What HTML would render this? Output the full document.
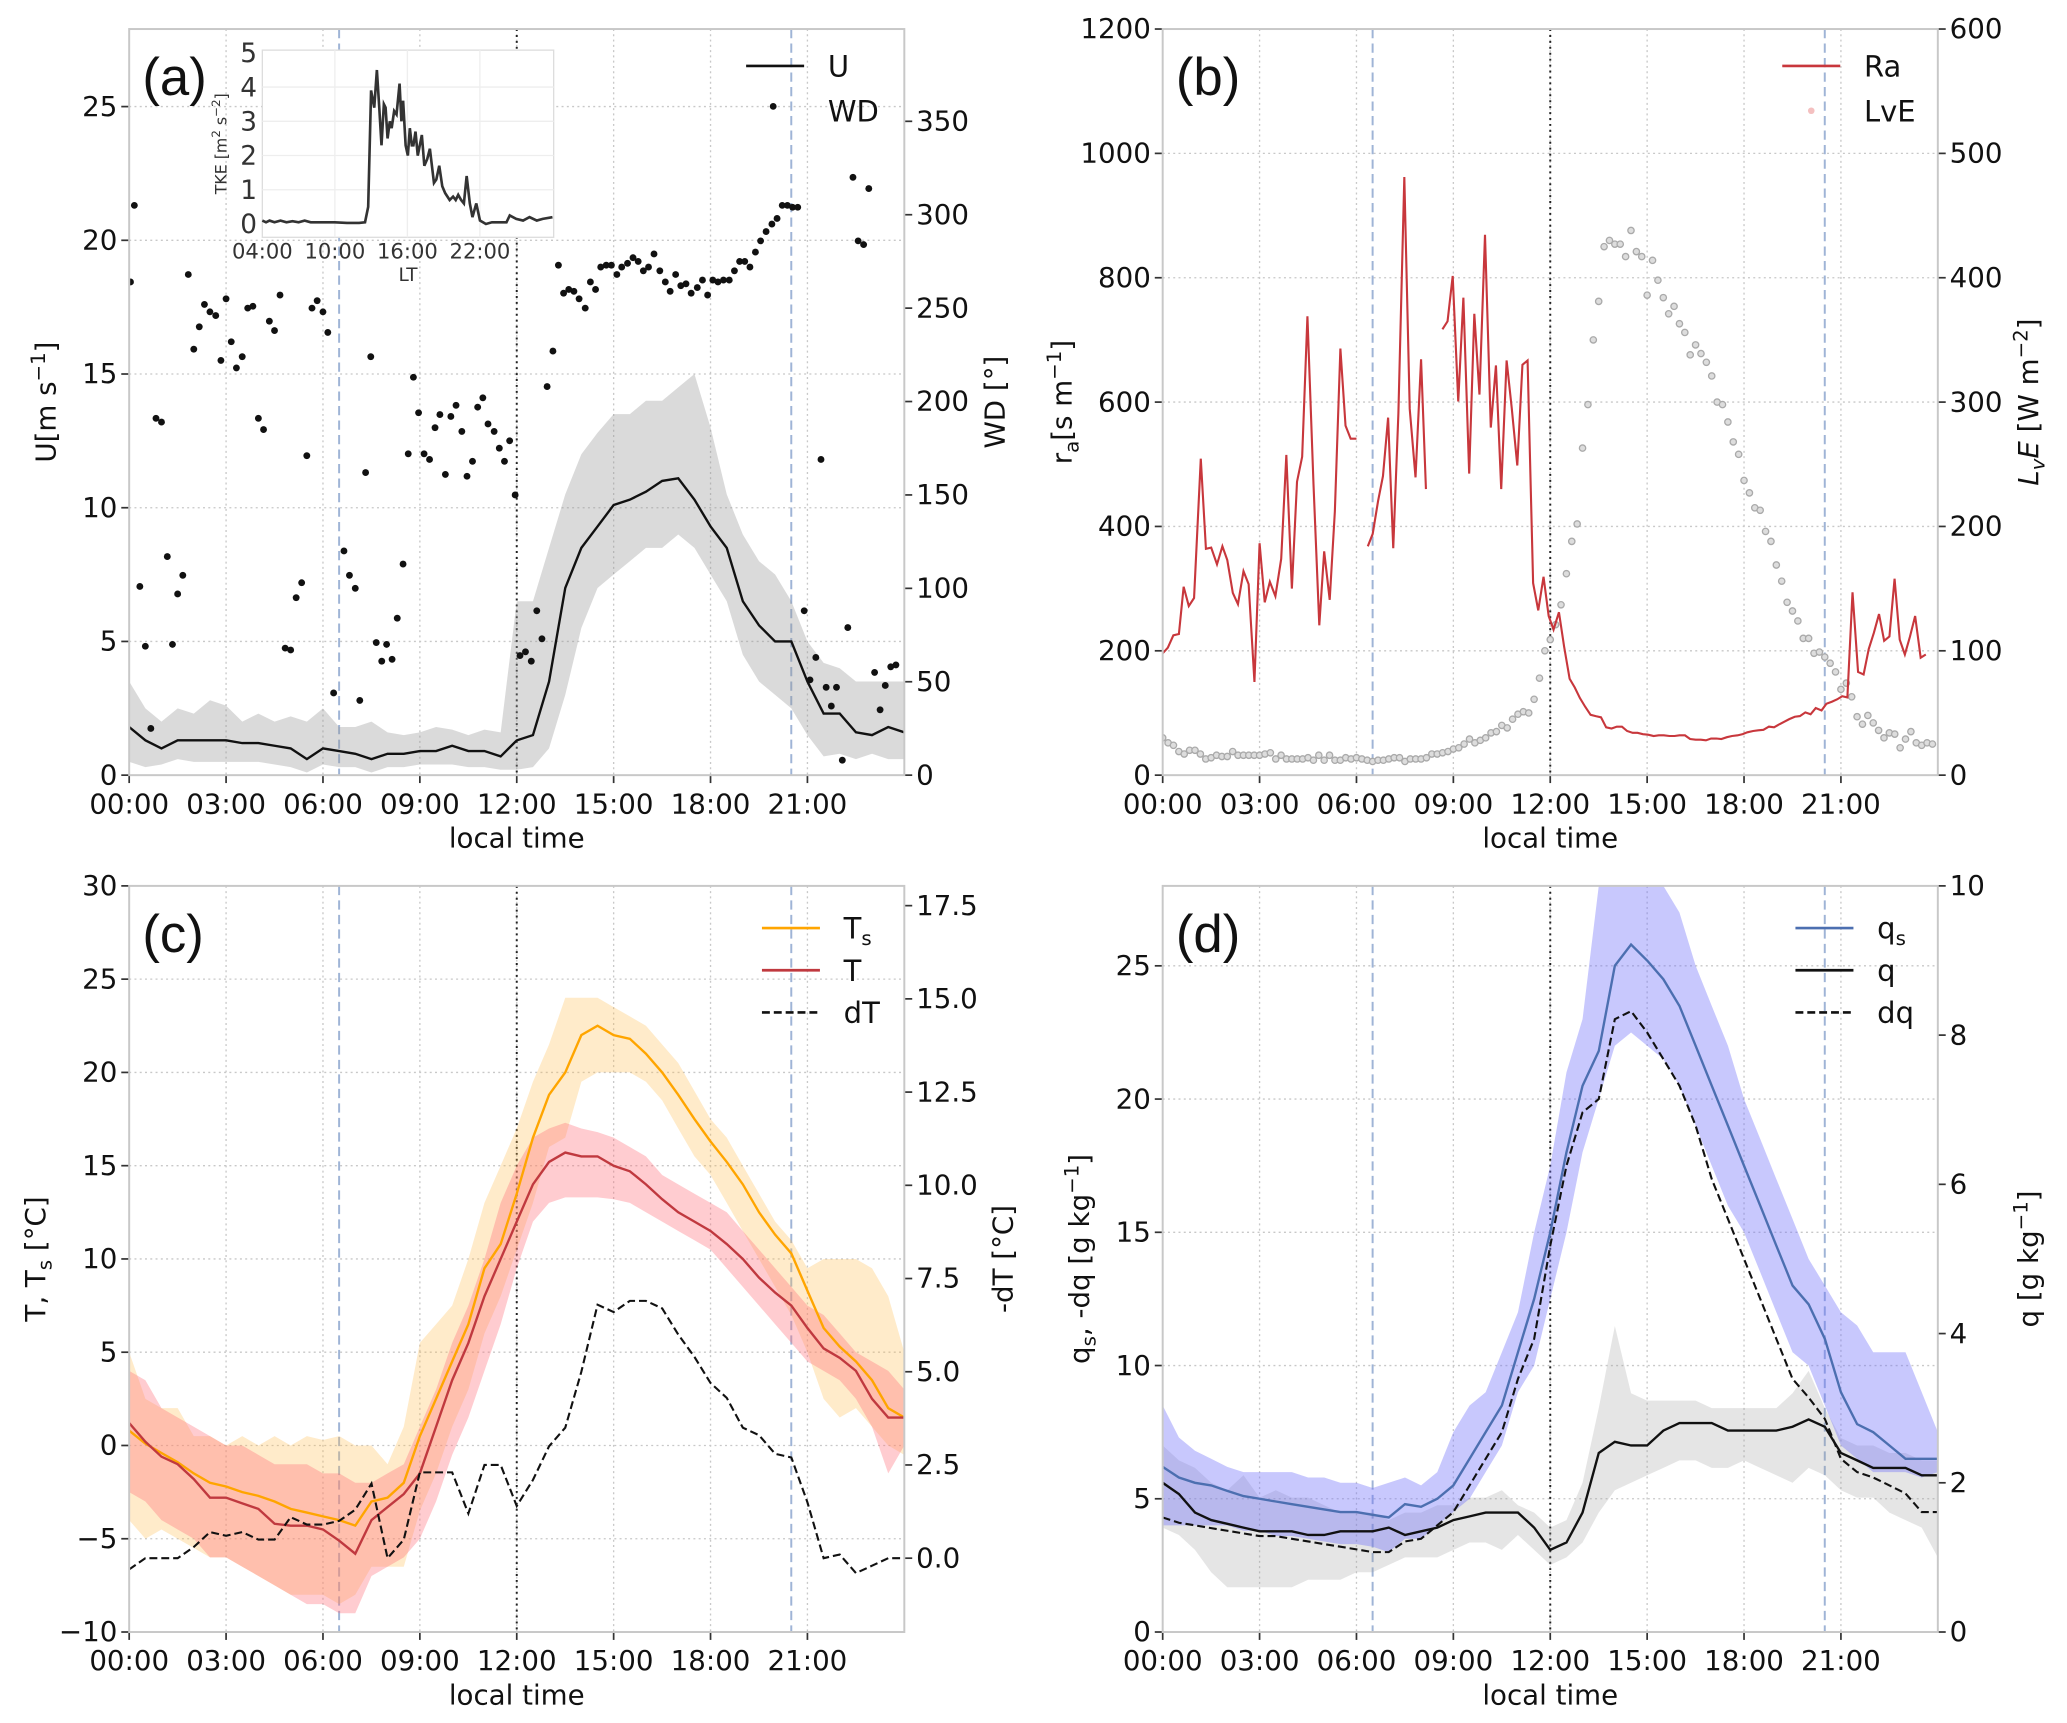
<!DOCTYPE html>
<html><head><meta charset="utf-8"><style>
html,body{margin:0;padding:0;background:#fff;}
svg{display:block;font-family:"DejaVu Sans","Liberation Sans",sans-serif;}
</style></head><body>
<svg id="fig" xmlns="http://www.w3.org/2000/svg" width="2067" height="1723" viewBox="0 0 1568 1307"></svg>
<script>
// ---------- DATA ----------
const halfHours = Array.from({length:49},(_, i)=>i*0.5);
const timeTicks = [0,3,6,9,12,15,18,21];
const timeTickLabels = ["00:00","03:00","06:00","09:00","12:00","15:00","18:00","21:00"];
// panel a
const uVal = [1.8,1.3,1.0,1.3,1.3,1.3,1.3,1.2,1.2,1.1,1.0,0.6,1.0,0.9,0.8,0.6,0.8,0.8,0.9,0.9,1.1,0.9,0.9,0.7,1.3,1.5,3.5,7.0,8.5,9.3,10.1,10.3,10.6,11.0,11.1,10.3,9.3,8.5,6.5,5.6,5.0,5.0,3.5,2.3,2.3,1.6,1.5,1.8,1.6];
const uHi = [3.5,2.5,2.0,2.5,2.3,2.8,2.6,2.0,2.3,2.0,2.2,2.0,2.5,1.8,1.8,2.0,1.6,1.5,1.6,1.8,1.7,1.5,1.7,1.6,6.5,6.5,8.5,10.5,12.0,12.8,13.5,13.5,14.0,14.0,14.5,15.0,13.0,10.5,9.0,8.0,7.5,6.5,5.0,4.2,4.0,3.5,3.5,3.5,3.5];
const uLo = [0.5,0.3,0.4,0.6,0.5,0.5,0.5,0.5,0.5,0.4,0.3,0.1,0.4,0.3,0.3,0.1,0.3,0.3,0.4,0.4,0.4,0.3,0.3,0.2,0.2,0.3,1.0,3.0,5.5,7.0,7.5,8.0,8.5,8.5,9.0,8.5,7.5,6.5,4.5,3.5,3.0,2.5,1.5,0.7,0.8,0.6,0.8,0.6,0.6];
const wdTime = [0.04,0.16,0.33,0.5,0.67,0.83,1.0,1.18,1.34,1.5,1.66,1.83,2.0,2.17,2.33,2.5,2.68,2.84,3.0,3.16,3.32,3.5,3.67,3.83,4.0,4.16,4.34,4.5,4.67,4.83,5.0,5.17,5.34,5.5,5.66,5.82,6.0,6.15,6.33,6.65,6.82,7.0,7.14,7.32,7.48,7.65,7.82,7.97,8.14,8.3,8.48,8.64,8.8,8.96,9.13,9.3,9.47,9.62,9.79,9.96,10.12,10.3,10.46,10.63,10.79,10.95,11.11,11.3,11.46,11.62,11.78,11.95,12.1,12.27,12.45,12.62,12.78,12.94,13.12,13.29,13.45,13.61,13.77,13.93,14.12,14.28,14.44,14.6,14.77,14.93,15.1,15.25,15.43,15.6,15.76,15.92,16.08,16.25,16.43,16.6,16.75,16.92,17.08,17.24,17.4,17.59,17.75,17.91,18.07,18.23,18.4,18.58,18.74,18.9,19.06,19.22,19.39,19.55,19.72,19.9,19.94,20.06,20.22,20.38,20.54,20.7,20.9,21.08,21.26,21.42,21.58,21.74,21.9,22.08,22.25,22.41,22.57,22.74,22.9,23.08,23.25,23.41,23.58,23.74];
const wdVal = [264,305,101,69,25,191,189,117,70,97,107,268,228,240,252,248,246,222,255,232,218,224,250,251,191,185,243,238,257,68,67,95,103,171,250,254,248,237,44,120,107,100,40,162,224,71,61,70,62,84,113,172,213,194,172,169,186,193,161,192,198,184,160,168,197,202,188,184,175,168,179,150,64,66,61,88,73,208,227,273,258,260,259,255,250,264,260,272,273,273,268,272,274,277,275,270,272,279,270,264,259,268,262,263,258,261,265,257,265,264,265,265,270,275,275,272,280,286,291,295,358,298,305,305,304,304,88,51,63,169,47,37,47,8,79,320,286,284,314,55,35,48,58,59];
const tkeTime = [4,4.3,4.6,5,5.5,6,6.5,7,7.5,8,9,10,11,12,12.5,12.76,13.0,13.26,13.48,13.67,13.86,14.05,14.2,14.36,14.55,14.7,14.9,15.1,15.35,15.5,15.65,15.85,16.04,16.2,16.37,16.5,16.67,16.86,17.2,17.4,17.64,17.86,18.2,18.4,18.63,18.88,19.12,19.5,19.78,20.0,20.2,20.45,20.67,20.9,21.16,21.38,21.7,22.0,22.5,23,24.2,24.47,25.0,25.57,26.1,26.7,27.2,28.0];
const tkeVal = [0.1,0.05,0.1,0.05,0.1,0.05,0.08,0.05,0.1,0.05,0.05,0.05,0.03,0.03,0.05,0.5,3.9,3.4,4.5,3.4,2.3,3.5,3.4,2.5,3.0,2.8,3.3,3.2,4.1,3.0,3.6,2.3,2.0,2.8,2.3,2.3,2.7,2.0,2.6,1.7,1.9,2.2,1.2,1.3,1.7,1.1,0.9,0.7,0.8,0.7,0.85,0.7,0.6,1.4,0.6,0.2,0.6,0.1,0.0,0.05,0.05,0.25,0.15,0.1,0.2,0.1,0.15,0.2];
// panel b
const raTime = [0,0.16,0.33,0.5,0.65,0.81,0.97,1.18,1.34,1.5,1.68,1.85,2.0,2.17,2.33,2.5,2.66,2.84,3.0,3.16,3.32,3.49,3.67,3.83,4.0,4.16,4.32,4.48,4.67,4.85,5.0,5.17,5.33,5.5,5.66,5.82,6.0,null,6.35,6.5,6.67,6.82,6.98,7.14,7.3,7.48,7.65,7.83,8.0,8.15,null,8.66,8.82,8.98,9.15,9.31,9.49,9.65,9.81,9.98,10.16,10.32,10.48,10.65,10.81,10.98,11.14,11.3,11.47,11.63,11.79,11.95,12.1,12.27,12.43,12.6,12.76,12.92,13.08,13.25,13.41,13.57,13.73,13.9,14.06,14.22,14.38,14.55,14.7,14.87,15.03,15.2,15.36,15.52,15.69,15.85,16.0,16.17,16.33,16.5,16.66,16.82,16.98,17.14,17.3,17.47,17.63,17.8,17.96,18.1,18.28,18.44,18.6,18.77,18.93,19.1,19.25,19.4,19.57,19.73,19.9,20.06,20.22,20.4,20.55,20.72,20.88,21.04,21.2,21.36,21.53,21.7,21.86,22.02,22.18,22.34,22.5,22.66,22.82,22.98,23.14,23.3,23.47,23.63];
const raVal = [196,205,225,227,303,272,285,509,364,366,339,368,346,293,275,328,307,150,373,278,311,288,348,515,300,472,512,738,468,241,360,282,424,686,562,541,541,null,368,388,441,481,575,365,582,962,589,479,669,460,null,717,730,803,601,768,485,742,612,869,559,659,460,667,590,498,660,667,309,265,319,256,234,262,207,155,141,124,110,97,95,93,77,75,78,78,71,68,68,66,65,63,64,64,63,63,64,64,58,57,57,56,59,59,58,61,63,64,66,69,71,72,73,78,77,82,86,90,94,95,101,98,108,104,115,118,122,127,125,294,166,162,203,229,259,216,223,316,218,194,223,256,189,194];
const lveVal = [30,26,24,19,17,20,20,17,13,14,16,15,15,19,16,16,16,16,16,17,18,13,16,13,13,13,13,14,12,16,12,16,12,12,14,13,14,13,12,11,12,12,13,14,14,11,13,13,13,14,17,17,18,19,21,22,25,29,26,28,30,34,35,40,38,45,49,51,50,61,78,100,109,121,137,162,188,202,263,298,350,381,425,430,427,427,417,438,421,417,386,414,398,384,371,377,363,356,338,346,339,332,321,300,298,284,268,258,237,227,215,213,196,188,169,156,139,132,124,110,110,98,99,95,90,83,69,74,63,47,41,48,42,36,30,34,33,22,29,35,26,24,26,25];
// panel c
const tsVal = [0.8,0.1,-0.4,-0.9,-1.5,-2.0,-2.2,-2.5,-2.7,-3.0,-3.4,-3.6,-3.8,-4.0,-4.3,-3.0,-2.8,-2.0,0.5,2.5,4.5,6.5,9.5,10.8,13.5,16.5,18.8,20.0,22.0,22.5,22.0,21.8,21.0,20.0,18.8,17.5,16.3,15.2,14.0,12.5,11.3,10.3,8.3,6.3,5.3,4.5,3.5,2.0,1.5];
const tsHi = [5,2.5,2,2,0.5,0.5,0,0.5,0,0.5,0,0.5,0.3,0.5,0,0,-1,1,5.5,6.5,7.5,10,13,15,17,19.5,21.5,24,24,24,23.5,23,22.5,21.5,20.5,19,17.5,16.5,15,13.5,12,11,9.5,10,10,10,9.5,8,5];
const tsLo = [-4,-5,-4.5,-5,-5.5,-6,-6,-6.5,-7,-7.5,-8,-8,-8,-8.5,-8,-6.5,-6.5,-6.5,-3.5,-1.5,1,3,6,8,10.5,13,16,16.5,19.5,20,20,20,19.5,18.5,17,15.5,14.5,13,11.5,10,8.5,7,5,2.5,1.5,2,1,0,-0.5];
const tVal = [1.2,0.2,-0.6,-1.0,-1.8,-2.8,-2.8,-3.1,-3.4,-4.2,-4.3,-4.3,-4.5,-5.1,-5.8,-4.0,-3.3,-2.6,-1.5,1.0,3.5,5.5,8.0,10.0,12.0,14.0,15.2,15.7,15.5,15.5,15.0,14.7,14.0,13.2,12.5,12.0,11.5,10.8,10.0,9.0,8.2,7.5,6.3,5.2,4.7,4.0,2.5,1.5,1.5];
const tHi = [4,3.5,2,1.5,1,0.5,0,0,-0.5,-1,-1,-1,-1.5,-1.5,-2,-2,-1.5,-1,1,3,5.5,7.5,10,13,15,16.5,17,17.3,17,16.8,16.5,16,15.5,14.5,14,13.5,13,12.5,11.5,10.5,9.5,8.5,7.5,7,6,5,4.5,4,3];
const tLo = [-2.5,-3,-4,-4.5,-5,-6,-6,-6.5,-7,-7.5,-8,-8.5,-8.5,-9,-9,-7,-6.5,-6,-5,-3,-0.5,1.5,4,6.5,9.5,12,13,13.3,13.3,13.3,13.2,13,12.5,12,11.5,11,10.5,9.5,8.5,7.5,6.5,5.5,4.5,4,3.5,2.5,1,-1.5,0];
const dtVal = [-0.3,0,0,0,0.3,0.7,0.6,0.7,0.5,0.5,1.1,0.9,0.9,1.0,1.3,2.0,0,0.5,2.3,2.3,2.3,1.2,2.5,2.5,1.4,2.1,3.0,3.5,5.0,6.8,6.6,6.9,6.9,6.7,6.0,5.4,4.7,4.3,3.5,3.3,2.8,2.7,1.5,0.0,0.1,-0.4,-0.2,0.0,0.0];
// panel d
const qsVal = [6.2,5.8,5.6,5.5,5.3,5.1,5.0,4.9,4.8,4.7,4.6,4.5,4.5,4.4,4.3,4.8,4.7,5.0,5.5,6.5,7.5,8.5,10.5,12.5,15.0,18.0,20.5,21.8,25.0,25.8,25.2,24.5,23.5,22.0,20.5,19.0,17.5,16.0,14.5,13.0,12.3,11.0,9.0,7.8,7.5,7.0,6.5,6.5,6.5];
const qsHi = [8.5,7.3,6.8,6.5,6.2,6,6,6,6,5.8,5.8,5.6,5.6,5.4,5.6,5.8,5.5,6,7.5,8.5,9,10.5,12,15,17.5,21,23,28,28,28,28,28,27,25,23.5,22,20,18.5,17,15.5,14,13,12,11.5,10.5,10.5,10.5,9,7.5];
const qsLo = [4,4,4,4,4,3.8,3.8,3.6,3.6,3.5,3.4,3.3,3.3,3.2,3.0,3.5,3.5,4,4.5,5,6,7,9,10,12.5,15,18,20,22,22.5,22,21.5,20.5,19,17.5,16,15,13.5,12,10.5,10,8.5,7,6.5,6,6,6,5.8,6];
const dqVal = [4.3,4.1,4.0,3.9,3.8,3.7,3.6,3.6,3.5,3.4,3.3,3.2,3.1,3.0,3.0,3.4,3.5,4.0,4.5,5.5,6.5,7.5,9.5,11,14.5,17.5,19.5,20.0,23,23.3,22.5,21.5,20.5,19.0,17,15.5,14,12.5,11,9.5,8.8,8,6.5,6,5.8,5.5,5.2,4.5,4.5];
const qVal = [2.0,1.85,1.6,1.5,1.45,1.4,1.35,1.35,1.35,1.3,1.3,1.35,1.35,1.35,1.4,1.3,1.35,1.4,1.5,1.55,1.6,1.6,1.6,1.4,1.1,1.2,1.6,2.4,2.55,2.5,2.5,2.7,2.8,2.8,2.8,2.7,2.7,2.7,2.7,2.75,2.85,2.75,2.4,2.3,2.2,2.2,2.2,2.1,2.1];
const qHi = [2.5,2.3,2.2,2.0,1.9,2.1,1.8,1.9,1.8,1.8,1.7,1.6,1.6,1.6,1.5,1.6,1.6,1.7,1.7,1.8,1.8,1.9,1.7,1.6,1.4,1.5,2.0,3.0,4.1,3.2,3.1,3.1,3.1,3.1,3.0,3.0,3.0,3.0,3.0,3.2,3.5,3.0,2.6,2.5,2.5,2.4,2.4,2.3,2.3];
const qLo = [1.4,1.3,1.1,0.8,0.6,0.6,0.6,0.6,0.6,0.7,0.7,0.7,0.8,0.8,0.9,1.0,1.0,1.0,1.1,1.2,1.2,1.1,1.3,1.1,0.9,1.0,1.2,1.6,1.9,2.0,2.1,2.2,2.3,2.3,2.2,2.2,2.3,2.2,2.1,2.0,2.2,2.1,1.9,1.8,1.8,1.6,1.5,1.4,1.0];
const markerLines = [6.5, 20.5];
const noonLine = 12;

// ---------- DRAWING ----------
const NS="http://www.w3.org/2000/svg";
const svg=document.getElementById('fig');
function el(tag,attrs,parent){const e=document.createElementNS(NS,tag);for(const k in attrs)e.setAttribute(k,attrs[k]);(parent||svg).appendChild(e);return e;}
function scale(d0,d1,r0,r1){return v=>r0+(v-d0)/(d1-d0)*(r1-r0);}
function linePath(xs,ys,sx,sy){let d="",pen=false;for(let i=0;i<xs.length;i++){if(xs[i]===null||ys[i]===null){pen=false;continue;}d+=(pen?"L":"M")+sx(xs[i]).toFixed(1)+","+sy(ys[i]).toFixed(1);pen=true;}return d;}
function bandPath(xs,lo,hi,sx,sy){let d="";for(let i=0;i<xs.length;i++)d+=(i?"L":"M")+sx(xs[i]).toFixed(1)+","+sy(hi[i]).toFixed(1);for(let i=xs.length-1;i>=0;i--)d+="L"+sx(xs[i]).toFixed(1)+","+sy(lo[i]).toFixed(1);return d+"Z";}
function txt(s,x,y,size,anchor,parent,extra){const t=el('text',Object.assign({x:x,y:y,'font-size':size,'text-anchor':anchor||'middle',fill:'#111'},extra||{}),parent);t.innerHTML=s;return t;}

function panel(name,P,left,right,letter){
  const g=el('g',{});
  
  
  const sx=scale(0,24,P.x0,P.x1), sy=scale(left.min,left.max,P.y1,P.y0), sy2=scale(right.min,right.max,P.y1,P.y0);
  const clipId='clip-'+name;
  const cp=el('clipPath',{id:clipId},g);el('rect',{x:P.x0,y:P.y0,width:P.x1-P.x0,height:P.y1-P.y0},cp);
  const grid=el('g',{stroke:'#c8c8c8','stroke-width':1,'stroke-dasharray':'1.5,2.5'},g);
  
  
  timeTicks.forEach(t=>el('line',{x1:sx(t),x2:sx(t),y1:P.y0,y2:P.y1},grid));
  left.ticks.forEach(v=>el('line',{x1:P.x0,x2:P.x1,y1:sy(v),y2:sy(v)},grid));
  const xa=el('g',{},g);
  
  
  timeTicks.forEach((t,i)=>{el('line',{x1:sx(t),x2:sx(t),y1:P.y1,y2:P.y1+6,stroke:'#333','stroke-width':1.3},xa);txt(timeTickLabels[i],sx(t),P.y1+29,21,'middle',xa);});
  const xt=txt('local time',(P.x0+P.x1)/2,P.y1+55,21,'middle',g);
  
  
  const ya=el('g',{},g);
  
  
  left.ticks.forEach((v,i)=>{el('line',{x1:P.x0-6,x2:P.x0,y1:sy(v),y2:sy(v),stroke:'#333','stroke-width':1.3},ya);txt(left.labels[i],P.x0-9,sy(v)+7,21,'end',ya);});
  const yb=el('g',{},g);
  
  
  right.ticks.forEach((v,i)=>{el('line',{x1:P.x1,x2:P.x1+6,y1:sy2(v),y2:sy2(v),stroke:'#333','stroke-width':1.3},yb);txt(right.labels[i],P.x1+9,sy2(v)+7,21,'start',yb);});
  const lt=txt(left.title,left.tx,(P.y0+P.y1)/2,21,'middle',g,{transform:`rotate(-90 ${left.tx} ${(P.y0+P.y1)/2})`});
  
  
  const rt=txt(right.title,right.tx,(P.y0+P.y1)/2,21,'middle',g,{transform:`rotate(-90 ${right.tx} ${(P.y0+P.y1)/2})`});
  
  
  const plot=el('g',{'clip-path':`url(#${clipId})`},g);
  
  
  const lab=txt(letter,P.x0+10,P.y0+50,40,'start',g,{'font-family':'"Liberation Sans",sans-serif'});
  
  
  return {g,plot,sx,sy,sy2,P};
}
function refLines(p){
  markerLines.forEach(t=>{const l=el('line',{x1:p.sx(t),x2:p.sx(t),y1:p.P.y0,y2:p.P.y1,stroke:'#9fb4d6','stroke-width':1.5,'stroke-dasharray':'7,4'},p.plot);
    
    });
  const n=el('line',{x1:p.sx(noonLine),x2:p.sx(noonLine),y1:p.P.y0,y2:p.P.y1,stroke:'#222','stroke-width':1.5,'stroke-dasharray':'1.5,3'},p.plot);
  
  
}
function frame(p){el('rect',{x:p.P.x0,y:p.P.y0,width:p.P.x1-p.P.x0,height:p.P.y1-p.P.y0,fill:'none',stroke:'#c8c8c8','stroke-width':1.5},p.g);}
function legend(p,items,lx,ly,dy){
  const lg=el('g',{},p.g);
  
  
  items.forEach((it,i)=>{const y=ly+i*dy;
    const e=el('g',{},lg);
    
    
    if(it.dot) el('circle',{cx:lx+22,cy:y,r:2.5,fill:'#f4c0c0'},e);
    else if(it.color) el('line',{x1:lx,x2:lx+44,y1:y,y2:y,stroke:it.color,'stroke-width':2,'stroke-dasharray':it.dash||''},e);
    txt(it.label,lx+62,y+8,22,'start',e);});
}
const t10 = lveVal.map((_,i)=>i/6);
// ===== panel a =====
const A=panel('panel-a',{x0:98,x1:686,y0:22,y1:588},
 {min:0,max:27.9,ticks:[0,5,10,15,20,25],labels:["0","5","10","15","20","25"],title:'U[m s<tspan dy="-8" font-size="15">−1</tspan><tspan dy="8">]</tspan>',tx:42},
 {min:0,max:399.4,ticks:[0,50,100,150,200,250,300,350],labels:["0","50","100","150","200","250","300","350"],title:'WD [°]',tx:762},'(a)');
refLines(A);
let e=el('path',{d:bandPath(halfHours,uLo,uHi,A.sx,A.sy),fill:'rgba(150,150,150,0.35)',stroke:'none'},A.plot);


e=el('path',{d:linePath(halfHours,uVal,A.sx,A.sy),fill:'none',stroke:'#111','stroke-width':1.8},A.plot);


wdTime.forEach((t,i)=>{const c=el('circle',{cx:A.sx(t),cy:A.sy2(wdVal[i]),r:2.6,fill:'#111'},A.plot);
  
  });
frame(A);
legend(A,[{label:'U',color:'#111'},{label:'WD'}],566,50,34);
// inset
const I={x0:199,x1:420,y0:38,y1:180};
const ig=el('g',{});


el('rect',{x:I.x0,y:I.y0,width:I.x1-I.x0,height:I.y1-I.y0,fill:'#fff',stroke:'#ddd','stroke-width':1},ig);
const isx=scale(4,28.1,I.x0,I.x1), isy=scale(-0.39,5.08,I.y1,I.y0);
const inTicks=[4,10,16,22], inLabels=["04:00","10:00","16:00","22:00"];
[10,16,22].forEach(t=>el('line',{x1:isx(t),x2:isx(t),y1:I.y0,y2:I.y1,stroke:'#eee','stroke-width':1},ig));
[1,2,3,4].forEach(v=>el('line',{x1:I.x0,x2:I.x1,y1:isy(v),y2:isy(v),stroke:'#eee','stroke-width':1},ig));
inTicks.forEach((t,i)=>txt(inLabels[i],isx(t),I.y1+16,16,'middle',ig,{fill:'#333'}));
[0,1,2,3,4,5].forEach(v=>txt(String(v),I.x0-4,isy(v)+7,20,'end',ig,{fill:'#333'}));
txt('LT',(I.x0+I.x1)/2,I.y1+33,14,'middle',ig,{fill:'#333'});
txt('TKE [m<tspan dy="-5" font-size="9">2</tspan><tspan dy="5"> s</tspan><tspan dy="-5" font-size="9">−2</tspan><tspan dy="5">]</tspan>',172,(I.y0+I.y1)/2,12,'middle',ig,{fill:'#333',transform:`rotate(-90 172 ${(I.y0+I.y1)/2})`});
e=el('path',{d:linePath(tkeTime,tkeVal,isx,isy),fill:'none',stroke:'#333','stroke-width':2},ig);


// ===== panel b =====
const B=panel('panel-b',{x0:882,x1:1470,y0:22,y1:588},
 {min:0,max:1200,ticks:[0,200,400,600,800,1000,1200],labels:["0","200","400","600","800","1000","1200"],title:'r<tspan dy="5" font-size="15">a</tspan><tspan dy="-5">[s m</tspan><tspan dy="-8" font-size="15">−1</tspan><tspan dy="8">]</tspan>',tx:813},
 {min:0,max:600,ticks:[0,100,200,300,400,500,600],labels:["0","100","200","300","400","500","600"],title:'<tspan font-style="italic">L<tspan dy="5" font-size="15">v</tspan><tspan dy="-5">E</tspan></tspan> [W m<tspan dy="-8" font-size="15">−2</tspan><tspan dy="8">]</tspan>',tx:1546},'(b)');
refLines(B);
lveVal.forEach((v,i)=>{const c=el('circle',{cx:B.sx(t10[i]),cy:B.sy2(v),r:2.4,fill:'#ddd',stroke:'#aaa','stroke-width':1},B.plot);
  
  });
e=el('path',{d:linePath(raTime,raVal,B.sx,B.sy),fill:'none',stroke:'#c8373c','stroke-width':1.6},B.plot);


frame(B);
legend(B,[{label:'Ra',color:'#c8373c'},{label:'LvE',dot:true}],1352,50,34);
// ===== panel c =====
const C=panel('panel-c',{x0:98,x1:686,y0:672,y1:1238},
 {min:-10,max:30,ticks:[-10,-5,0,5,10,15,20,25,30],labels:["−10","−5","0","5","10","15","20","25","30"],title:'T, T<tspan dy="5" font-size="15">s</tspan><tspan dy="-5"> [°C]</tspan>',tx:34},
 {min:-1.98,max:18.03,ticks:[0,2.5,5,7.5,10,12.5,15,17.5],labels:["0.0","2.5","5.0","7.5","10.0","12.5","15.0","17.5"],title:'-dT [°C]',tx:768},'(c)');
refLines(C);
e=el('path',{d:bandPath(halfHours,tsLo,tsHi,C.sx,C.sy),fill:'rgba(255,190,80,0.3)'},C.plot);


e=el('path',{d:bandPath(halfHours,tLo,tHi,C.sx,C.sy),fill:'rgba(255,110,120,0.35)'},C.plot);


e=el('path',{d:linePath(halfHours,tsVal,C.sx,C.sy),fill:'none',stroke:'#ffa500','stroke-width':1.8},C.plot);


e=el('path',{d:linePath(halfHours,tVal,C.sx,C.sy),fill:'none',stroke:'#c0393f','stroke-width':1.8},C.plot);


e=el('path',{d:linePath(halfHours,dtVal,C.sx,C.sy2),fill:'none',stroke:'#111','stroke-width':1.6,'stroke-dasharray':'6,3'},C.plot);


frame(C);
legend(C,[{label:'T<tspan dy="5" font-size="15">s</tspan>',color:'#ffa500'},{label:'T',color:'#c0393f'},{label:'dT',color:'#111',dash:'6,3'}],578,704,32);
// ===== panel d =====
const D=panel('panel-d',{x0:882,x1:1470,y0:672,y1:1238},
 {min:0,max:28,ticks:[0,5,10,15,20,25],labels:["0","5","10","15","20","25"],title:'q<tspan dy="5" font-size="15">s</tspan><tspan dy="-5">, -dq [g kg</tspan><tspan dy="-8" font-size="15">−1</tspan><tspan dy="8">]</tspan>',tx:826},
 {min:0,max:10,ticks:[0,2,4,6,8,10],labels:["0","2","4","6","8","10"],title:'q [g kg<tspan dy="-8" font-size="15">−1</tspan><tspan dy="8">]</tspan>',tx:1546},'(d)');
refLines(D);
e=el('path',{d:bandPath(halfHours,qLo,qHi,D.sx,D.sy2),fill:'rgba(150,150,150,0.25)'},D.plot);


e=el('path',{d:bandPath(halfHours,qsLo,qsHi,D.sx,D.sy),fill:'rgba(110,110,250,0.38)'},D.plot);


e=el('path',{d:linePath(halfHours,qsVal,D.sx,D.sy),fill:'none',stroke:'#4c6fb0','stroke-width':1.8},D.plot);


e=el('path',{d:linePath(halfHours,qVal,D.sx,D.sy2),fill:'none',stroke:'#111','stroke-width':1.8},D.plot);


e=el('path',{d:linePath(halfHours,dqVal,D.sx,D.sy),fill:'none',stroke:'#111','stroke-width':1.6,'stroke-dasharray':'6,3'},D.plot);


frame(D);
legend(D,[{label:'q<tspan dy="5" font-size="15">s</tspan>',color:'#4c6fb0'},{label:'q',color:'#111'},{label:'dq',color:'#111',dash:'6,3'}],1362,704,32);
</script>
</body></html>
